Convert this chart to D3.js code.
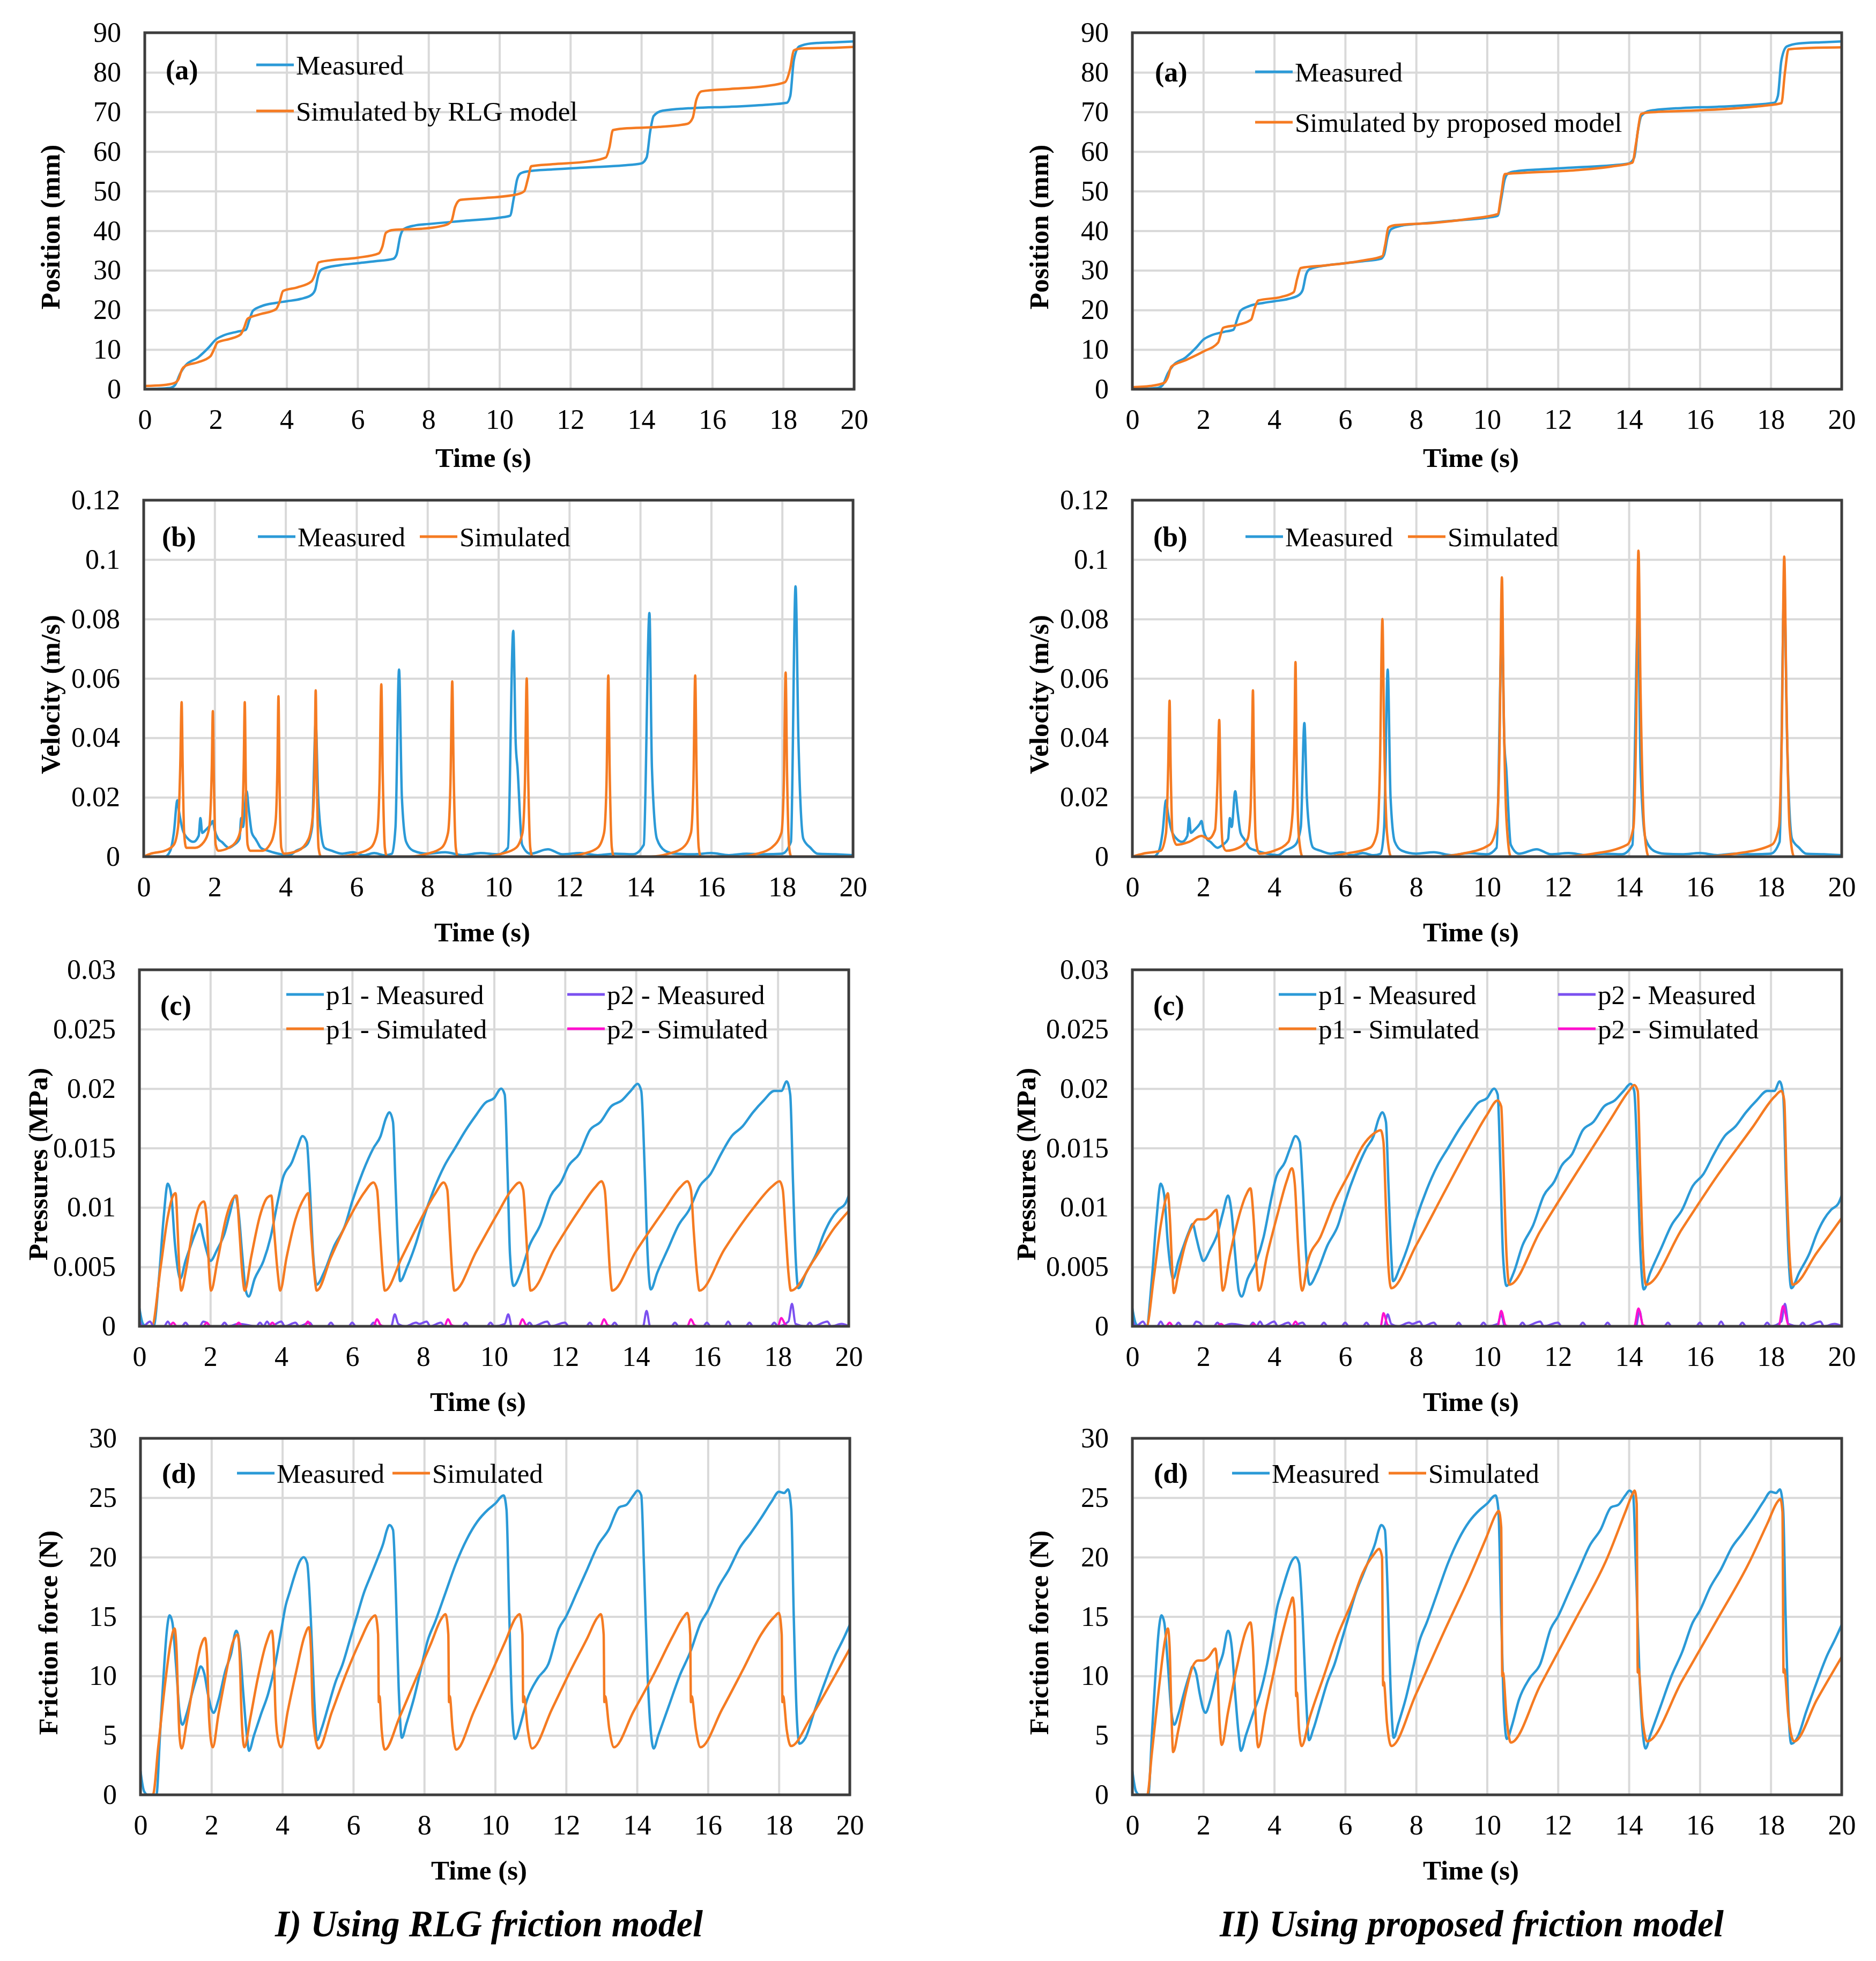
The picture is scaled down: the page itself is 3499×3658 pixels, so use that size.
<!DOCTYPE html>
<html lang="en">
<head>
<meta charset="utf-8">
<title>Measured vs simulated: RLG and proposed friction models</title>
<script src="https://cdn.jsdelivr.net/npm/d3@7"></script>
<style>
  body { margin: 0; background: #fff; }
  text { font-family: "Liberation Serif", "Times New Roman", serif; fill: #000; }
  .grid line { stroke: #d9d9d9; stroke-width: 4; }
  .grid path { display: none; }
  .axis path { display: none; }
  .axis text { font-size: 52px; }
</style>
</head>
<body>
<script>

// ---- tick values ----
var timeTicks = [0, 2, 4, 6, 8, 10, 12, 14, 16, 18, 20];
var posTicks = [0, 10, 20, 30, 40, 50, 60, 70, 80, 90];
var velTicks = [0, 0.02, 0.04, 0.06, 0.08, 0.1, 0.12];
var presTicks = [0, 0.005, 0.01, 0.015, 0.02, 0.025, 0.03];
var forceTicks = [0, 5, 10, 15, 20, 25, 30];

// ---- (a) position, mm  [time s, value] ----
var measPos = [[0,0],[0.3,0.1],[0.7,0.3],[0.85,1],[1.0,4],[1.15,6],[1.5,8],[1.8,10.5],[2.0,12.5],[2.2,13.5],[2.6,14.5],[2.85,15],[2.95,17.5],[3.05,19.8],[3.3,21],[3.7,21.8],[4.0,22.2],[4.4,22.8],[4.7,23.8],[4.8,25],[4.9,29],[5.0,30.3],[5.5,31.3],[6.0,31.8],[6.5,32.3],[7.0,32.9],[7.1,34],[7.2,38.5],[7.3,40.4],[7.6,41.3],[8,41.7],[9,42.5],[10,43.3],[10.3,43.8],[10.4,48],[10.5,53],[10.6,54.5],[10.8,55],[11.5,55.5],[12.5,56],[13.5,56.5],[14.0,57],[14.15,58.5],[14.25,65],[14.35,69],[14.6,70.3],[15.5,71],[16.5,71.3],[17.5,71.8],[18.1,72.3],[18.2,74],[18.3,83],[18.45,86.5],[18.8,87.3],[19.5,87.6],[20,87.8]];
var simPosRLG = [[0,0.8],[0.5,1.0],[0.85,1.6],[0.95,2.5],[1.05,5],[1.15,5.9],[1.5,6.8],[1.85,8.3],[1.95,10],[2.05,11.8],[2.4,12.7],[2.7,13.8],[2.8,15.5],[2.9,17.8],[3.2,18.8],[3.7,20.2],[3.8,22],[3.9,24.8],[4.3,25.7],[4.7,27.2],[4.8,29],[4.9,32],[5.2,32.5],[6.0,33.2],[6.6,34.3],[6.7,36],[6.8,39.5],[7.0,40.2],[7.8,40.5],[8.5,41.5],[8.65,42.5],[8.75,46],[8.9,47.8],[9.5,48.2],[10.5,49.2],[10.7,50],[10.8,53],[10.9,56.3],[11.5,56.8],[12.5,57.5],[13.0,58.5],[13.1,61],[13.2,65.4],[13.5,65.8],[14.5,66.2],[15.3,67],[15.45,68.5],[15.55,73],[15.7,75.2],[16.5,75.8],[17.5,76.5],[18.05,77.5],[18.2,81],[18.3,85.5],[18.5,86],[19.5,86.2],[20,86.4]];
var simPosProp = [[0,0.5],[0.5,0.8],[0.9,1.6],[1.0,3],[1.1,5.7],[1.5,7.3],[2.0,9.5],[2.42,11.8],[2.48,13.5],[2.56,15.5],[3.0,16.3],[3.35,17.6],[3.45,20.5],[3.55,22.4],[4.2,23.3],[4.55,24.5],[4.65,28],[4.75,30.6],[5.5,31.3],[6.5,32.5],[7.05,33.6],[7.13,36.5],[7.22,40.8],[7.4,41.4],[8.5,42],[9.5,43],[10.3,44.2],[10.4,49],[10.5,54.3],[11,54.6],[12.5,55.3],[13.5,56.2],[14.1,57.2],[14.2,62],[14.35,69.5],[14.6,69.9],[16,70.4],[17.5,71.3],[18.3,72.2],[18.4,80],[18.5,85.8],[19,86.1],[20,86.3]];

// ---- (b) velocity, m/s ----
var measVel = [[0,0],[0.6,0],[0.75,0.002],[0.85,0.008],[0.95,0.019],[1.0,0.015],[1.1,0.009],[1.25,0.006],[1.4,0.005],[1.55,0.007],[1.6,0.013],[1.65,0.008],[1.75,0.009],[1.9,0.011],[1.95,0.012],[2.0,0.009],[2.1,0.006],[2.2,0.005],[2.4,0.003],[2.55,0.004],[2.7,0.006],[2.75,0.013],[2.8,0.01],[2.9,0.022],[2.97,0.015],[3.05,0.008],[3.15,0.006],[3.2,0.005],[3.3,0.003],[3.5,0.002],[3.8,0.001],[4.1,0.0005],[4.3,0.002],[4.6,0.004],[4.75,0.01],[4.85,0.045],[4.92,0.02],[5.0,0.008],[5.1,0.003],[5.3,0.002],[5.6,0.001],[5.9,0.0015],[6.2,0.0005],[6.5,0.0012],[6.8,0.0005],[7.0,0.001],[7.1,0.01],[7.2,0.063],[7.28,0.02],[7.4,0.005],[7.6,0.002],[8.0,0.001],[8.5,0.0015],[9.0,0.0005],[9.5,0.0012],[10.0,0.0008],[10.27,0.003],[10.42,0.076],[10.49,0.038],[10.54,0.03],[10.67,0.004],[10.9,0.001],[11.4,0.0025],[11.8,0.0008],[12.3,0.0012],[12.8,0.0005],[13.3,0.001],[13.8,0.0008],[14.1,0.004],[14.26,0.082],[14.33,0.03],[14.47,0.006],[14.7,0.002],[15,0.001],[15.5,0.0008],[16,0.0012],[16.5,0.0005],[17,0.001],[17.5,0.0008],[18.0,0.001],[18.25,0.005],[18.38,0.091],[18.46,0.04],[18.6,0.006],[18.8,0.003],[19.0,0.001],[19.5,0.0008],[20,0.0005]];
var simVelRLG = [[0,0],[0.2,0.001],[0.6,0.002],[0.85,0.004],[0.97,0.01],[1.03,0.03],[1.07,0.052],[1.1,0.03],[1.14,0.008],[1.2,0.003],[1.45,0.003],[1.7,0.005],[1.85,0.01],[1.92,0.03],[1.95,0.049],[1.98,0.025],[2.03,0.004],[2.1,0.002],[2.4,0.003],[2.65,0.006],[2.77,0.012],[2.82,0.03],[2.85,0.052],[2.88,0.025],[2.93,0.004],[3.0,0.002],[3.35,0.002],[3.6,0.005],[3.72,0.012],[3.77,0.03],[3.8,0.054],[3.83,0.025],[3.88,0.003],[3.95,0.001],[4.35,0.002],[4.65,0.006],[4.77,0.014],[4.82,0.03],[4.85,0.056],[4.88,0.028],[4.93,0.003],[5.0,0],[5.5,0],[6.0,0.001],[6.4,0.003],[6.58,0.008],[6.65,0.025],[6.7,0.058],[6.74,0.028],[6.8,0.003],[6.86,0],[7.5,0],[8.0,0.001],[8.4,0.003],[8.58,0.008],[8.65,0.025],[8.7,0.059],[8.74,0.028],[8.8,0.003],[8.86,0],[9.6,0],[10.1,0.001],[10.5,0.003],[10.68,0.008],[10.75,0.025],[10.8,0.06],[10.84,0.028],[10.9,0.003],[10.96,0],[11.9,0],[12.4,0.001],[12.8,0.003],[12.98,0.008],[13.05,0.025],[13.1,0.061],[13.14,0.028],[13.2,0.003],[13.26,0],[14.3,0],[14.8,0.001],[15.2,0.003],[15.43,0.008],[15.5,0.025],[15.55,0.061],[15.59,0.028],[15.65,0.003],[15.71,0],[16.8,0],[17.3,0.001],[17.7,0.003],[17.98,0.008],[18.05,0.025],[18.1,0.062],[18.14,0.028],[18.2,0.003],[18.26,0],[20,0]];
var simVelProp = [[0,0],[0.3,0.001],[0.8,0.002],[0.95,0.008],[1.01,0.03],[1.05,0.0525],[1.08,0.03],[1.13,0.008],[1.25,0.004],[1.6,0.005],[1.95,0.007],[2.15,0.006],[2.33,0.009],[2.4,0.025],[2.45,0.046],[2.49,0.02],[2.55,0.004],[2.65,0.002],[3.0,0.003],[3.25,0.006],[3.33,0.015],[3.37,0.035],[3.4,0.056],[3.43,0.03],[3.48,0.006],[3.58,0.001],[4.0,0.002],[4.4,0.005],[4.52,0.015],[4.57,0.04],[4.6,0.0655],[4.63,0.035],[4.7,0.006],[4.8,0],[5.5,0],[6.0,0.001],[6.7,0.003],[6.9,0.008],[6.98,0.03],[7.05,0.08],[7.1,0.04],[7.18,0.008],[7.3,0],[8.5,0],[9.3,0.001],[10.07,0.004],[10.27,0.01],[10.35,0.035],[10.42,0.094],[10.47,0.05],[10.55,0.012],[10.67,0],[12,0],[13.0,0.001],[13.95,0.004],[14.13,0.01],[14.2,0.04],[14.27,0.103],[14.33,0.055],[14.43,0.01],[14.56,0],[16,0],[17.0,0.001],[18.03,0.004],[18.23,0.01],[18.31,0.04],[18.38,0.101],[18.44,0.055],[18.53,0.01],[18.66,0],[20,0]];

// ---- (c) pressures, MPa ----
var measP1 = [[0,0.0015],[0.1,0.0002],[0.2,0],[0.4,0],[0.55,0.004],[0.68,0.009],[0.8,0.012],[0.9,0.011],[1.0,0.007],[1.1,0.0045],[1.15,0.004],[1.3,0.0055],[1.45,0.0068],[1.6,0.008],[1.7,0.0086],[1.8,0.0075],[1.9,0.0063],[2.0,0.0055],[2.2,0.0065],[2.4,0.0078],[2.55,0.0095],[2.7,0.011],[2.8,0.0095],[2.9,0.006],[3.0,0.003],[3.08,0.0025],[3.25,0.004],[3.5,0.0055],[3.7,0.0075],[3.9,0.0105],[4.05,0.0125],[4.3,0.0138],[4.45,0.015],[4.6,0.016],[4.72,0.0155],[4.8,0.012],[4.9,0.006],[5.0,0.0035],[5.2,0.0045],[5.5,0.0068],[5.8,0.0085],[6.0,0.0105],[6.3,0.013],[6.6,0.015],[6.8,0.016],[6.95,0.0175],[7.05,0.018],[7.15,0.0172],[7.22,0.012],[7.3,0.006],[7.35,0.0038],[7.55,0.005],[7.8,0.007],[8.0,0.009],[8.3,0.0115],[8.6,0.0135],[8.9,0.015],[9.2,0.0165],[9.5,0.0178],[9.75,0.0188],[10.0,0.0192],[10.2,0.02],[10.3,0.0195],[10.38,0.013],[10.45,0.006],[10.55,0.0034],[10.75,0.0045],[11.0,0.0068],[11.3,0.0085],[11.6,0.011],[11.9,0.0122],[12.1,0.0135],[12.4,0.0145],[12.7,0.0165],[13.0,0.0172],[13.3,0.0185],[13.6,0.019],[13.85,0.0198],[14.05,0.0204],[14.15,0.0198],[14.25,0.013],[14.33,0.006],[14.42,0.0031],[14.6,0.0045],[14.9,0.0065],[15.2,0.0085],[15.5,0.0098],[15.8,0.0118],[16.1,0.0128],[16.4,0.0145],[16.7,0.016],[17.0,0.0168],[17.3,0.018],[17.6,0.019],[17.9,0.0198],[18.1,0.0198],[18.25,0.0206],[18.35,0.0195],[18.43,0.012],[18.5,0.006],[18.58,0.0032],[18.8,0.0045],[19.1,0.0062],[19.3,0.0078],[19.5,0.009],[19.7,0.0098],[19.9,0.0103],[20,0.011]];
var simP1RLG = [[0,0],[0.35,0],[0.6,0.005],[0.8,0.0092],[0.95,0.011],[1.02,0.0112],[1.08,0.008],[1.13,0.0045],[1.18,0.003],[1.3,0.0045],[1.5,0.008],[1.7,0.0102],[1.82,0.0105],[1.9,0.009],[1.96,0.005],[2.02,0.003],[2.2,0.0055],[2.45,0.0092],[2.65,0.0108],[2.74,0.011],[2.82,0.008],[2.9,0.0045],[2.97,0.003],[3.15,0.0058],[3.4,0.0093],[3.6,0.0108],[3.72,0.011],[3.8,0.008],[3.9,0.0045],[3.97,0.003],[4.15,0.0058],[4.4,0.009],[4.65,0.0108],[4.76,0.0112],[4.84,0.008],[4.93,0.0045],[5.0,0.003],[5.4,0.0058],[5.9,0.009],[6.35,0.0113],[6.6,0.0121],[6.7,0.0115],[6.78,0.008],[6.86,0.0045],[6.92,0.003],[7.4,0.0058],[7.9,0.0088],[8.35,0.0112],[8.58,0.0121],[8.68,0.0115],[8.75,0.008],[8.82,0.0045],[8.88,0.003],[9.5,0.0063],[10.1,0.0095],[10.5,0.0115],[10.72,0.0121],[10.82,0.0115],[10.9,0.008],[10.97,0.0045],[11.03,0.003],[11.7,0.0065],[12.4,0.0098],[12.85,0.0117],[13.03,0.0122],[13.12,0.0115],[13.2,0.008],[13.27,0.0045],[13.33,0.003],[14.0,0.0063],[14.8,0.0098],[15.25,0.0117],[15.45,0.0122],[15.55,0.0115],[15.63,0.008],[15.72,0.0045],[15.79,0.003],[16.5,0.0065],[17.3,0.0099],[17.85,0.0118],[18.05,0.0122],[18.14,0.0115],[18.22,0.008],[18.3,0.0045],[18.37,0.003],[19.0,0.0055],[19.6,0.0083],[20,0.0097]];
var simP1Prop = [[0,0],[0.4,0],[0.6,0.004],[0.8,0.0085],[0.95,0.0108],[1.0,0.0112],[1.06,0.009],[1.12,0.005],[1.17,0.0028],[1.3,0.0045],[1.5,0.007],[1.7,0.0085],[1.85,0.009],[2.05,0.009],[2.2,0.0093],[2.37,0.0098],[2.43,0.008],[2.5,0.0045],[2.55,0.003],[2.75,0.006],[3.0,0.0092],[3.2,0.011],[3.33,0.0116],[3.42,0.009],[3.5,0.005],[3.57,0.003],[3.8,0.006],[4.1,0.0095],[4.35,0.0122],[4.5,0.0133],[4.58,0.012],[4.67,0.007],[4.75,0.0035],[4.79,0.003],[4.95,0.0055],[5.3,0.0075],[5.7,0.0105],[6.1,0.0128],[6.5,0.0152],[6.8,0.0162],[7.0,0.0165],[7.08,0.0155],[7.15,0.01],[7.22,0.005],[7.3,0.0032],[8.0,0.0068],[8.8,0.0113],[9.5,0.0152],[10.0,0.0178],[10.3,0.019],[10.4,0.0185],[10.47,0.013],[10.55,0.006],[10.63,0.0035],[11.5,0.008],[12.5,0.0128],[13.5,0.0175],[14.0,0.0198],[14.15,0.0203],[14.25,0.0198],[14.32,0.013],[14.4,0.006],[14.48,0.0035],[15.5,0.0082],[16.5,0.0127],[17.5,0.0168],[18.1,0.0193],[18.3,0.0198],[18.38,0.019],[18.45,0.012],[18.53,0.006],[18.62,0.0035],[19.3,0.0062],[20,0.0091]];
var measP2 = [[0,0.0005],[0.1,0],[0.3,0.0004],[0.4,0],[0.7,0],[0.8,0.0004],[0.9,0],[1.2,0],[1.3,0.0003],[1.4,0],[1.7,0],[1.8,0.0004],[1.9,0.0003],[2.0,0],[2.3,0],[2.4,0.0003],[2.5,0],[2.8,0.0002],[3.3,0],[3.4,0.0003],[3.5,0],[3.6,0.0004],[3.7,0],[4.0,0.0004],[4.1,0],[4.4,0.0003],[4.5,0],[4.8,0.0003],[4.9,0],[5.3,0],[5.4,0.0003],[5.5,0],[5.9,0],[6.0,0.0003],[6.1,0],[6.5,0],[6.6,0.0003],[6.7,0],[7.1,0],[7.2,0.001],[7.3,0.0002],[7.5,0],[7.8,0.0003],[7.9,0.0002],[8.1,0.0004],[8.2,0],[8.5,0.0003],[8.6,0],[9.1,0],[9.2,0.0003],[9.3,0],[9.8,0],[9.9,0.0003],[10.0,0],[10.3,0.0002],[10.4,0.001],[10.5,0],[10.9,0],[11.0,0.0003],[11.1,0],[11.5,0.0004],[11.6,0],[12.0,0.0003],[12.1,0],[12.6,0],[12.7,0.0003],[12.8,0],[13.3,0],[13.4,0.0003],[13.5,0],[14.2,0],[14.3,0.0013],[14.4,0],[15.0,0],[15.1,0.0003],[15.2,0],[15.9,0],[16.0,0.0003],[16.1,0],[16.5,0],[16.6,0.0004],[16.7,0],[17.1,0],[17.2,0.0003],[17.3,0],[17.8,0],[17.9,0.0003],[18.0,0],[18.3,0.0004],[18.4,0.0019],[18.5,0.0002],[18.8,0],[18.9,0.0003],[19.0,0],[19.4,0.0004],[19.5,0],[19.8,0.0002],[20,0]];
var simP2RLG = [[0,0],[0.85,0],[0.95,0.0003],[1.05,0],[1.8,0],[1.9,0.0003],[2.0,0],[2.7,0],[2.8,0.0003],[2.9,0],[3.65,0],[3.75,0.0003],[3.85,0],[4.65,0],[4.75,0.0004],[4.85,0],[6.6,0],[6.7,0.0006],[6.8,0.0001],[6.9,0],[8.6,0],[8.7,0.0006],[8.8,0.0001],[8.9,0],[10.7,0],[10.8,0.0006],[10.9,0.0001],[11.0,0],[13.0,0],[13.1,0.0006],[13.2,0.0001],[13.3,0],[15.45,0],[15.55,0.0006],[15.65,0.0001],[15.75,0],[18.0,0],[18.1,0.0007],[18.2,0.0002],[18.3,0],[20,0]];
var simP2Prop = [[0,0],[0.95,0],[1.05,0.0003],[1.15,0],[2.4,0],[2.5,0.0002],[2.6,0],[3.35,0],[3.42,0.0002],[3.5,0],[4.5,0],[4.6,0.0004],[4.7,0],[7.0,0],[7.08,0.0011],[7.2,0.0001],[7.3,0],[10.3,0],[10.4,0.0013],[10.52,0.0001],[10.6,0],[14.15,0],[14.27,0.0015],[14.4,0.0001],[14.5,0],[18.22,0],[18.35,0.0017],[18.5,0.0001],[18.6,0],[20,0]];

// ---- (d) friction force, N ----
var measF = [[0,2],[0.1,0.3],[0.2,0],[0.45,0],[0.55,5],[0.65,10],[0.75,14],[0.82,15.1],[0.9,14.5],[1.0,11],[1.1,7],[1.18,5.9],[1.3,6.8],[1.45,8.5],[1.6,10],[1.7,10.8],[1.8,10.2],[1.9,8.5],[2.0,7.2],[2.06,6.9],[2.2,8],[2.4,10.5],[2.55,11.8],[2.7,13.8],[2.8,12.5],[2.9,8.5],[3.0,5],[3.06,3.7],[3.2,5],[3.4,6.8],[3.6,8.5],[3.8,11],[3.95,13.5],[4.1,16],[4.2,17],[4.35,18.5],[4.5,19.7],[4.6,20],[4.7,19.5],[4.8,15],[4.9,8],[4.98,4.6],[5.1,5.5],[5.3,7.5],[5.5,9.5],[5.7,11],[5.9,13],[6.1,15],[6.3,17],[6.5,18.5],[6.7,20],[6.85,21.2],[6.95,22.3],[7.02,22.7],[7.12,22.3],[7.2,17],[7.28,9],[7.37,4.8],[7.5,6],[7.7,8],[7.9,10.5],[8.1,13],[8.3,14.5],[8.6,17],[8.9,19.5],[9.2,21.5],[9.5,23],[9.8,24],[10.0,24.5],[10.24,25.2],[10.32,24],[10.4,15],[10.48,7],[10.56,4.7],[10.7,5.8],[10.9,8],[11.2,9.8],[11.5,11],[11.8,14],[12.0,15],[12.3,17],[12.6,19],[12.9,21],[13.2,22.3],[13.5,24.2],[13.7,24.4],[13.9,25.2],[14.02,25.6],[14.12,25.2],[14.2,19],[14.3,10],[14.4,5],[14.47,3.9],[14.6,5],[14.9,7.5],[15.2,10],[15.5,12],[15.8,14.5],[16.0,15.5],[16.3,17.5],[16.6,19],[16.9,20.8],[17.2,22],[17.5,23.3],[17.8,24.7],[18.0,25.5],[18.15,25.4],[18.26,25.7],[18.35,24],[18.42,15],[18.5,7],[18.58,4.3],[18.75,4.8],[19.0,7],[19.3,9.5],[19.6,11.8],[19.8,13],[20,14.3]];
var simFRLG = [[0,0],[0.35,0],[0.5,4],[0.7,9.5],[0.85,12.8],[0.96,14],[1.02,12],[1.06,8],[1.1,5],[1.16,3.9],[1.3,6],[1.5,9.5],[1.7,12.5],[1.82,13.2],[1.88,11.5],[1.92,7.5],[1.97,5],[2.04,4],[2.2,6.8],[2.4,10],[2.6,12.8],[2.74,13.5],[2.8,11.5],[2.84,7.5],[2.88,5],[2.93,4],[3.1,6.5],[3.3,9.7],[3.55,12.8],[3.7,13.8],[3.76,12],[3.8,7.5],[3.86,5],[3.96,4],[4.15,7],[4.4,10.5],[4.62,13.3],[4.75,14.1],[4.81,12],[4.85,7.5],[4.92,5],[5.02,3.9],[5.4,7],[5.8,10.2],[6.2,13],[6.5,14.8],[6.62,15.1],[6.7,13.5],[6.72,7.8],[6.74,8.3],[6.8,5.5],[6.89,3.8],[7.3,6.5],[7.8,10],[8.2,12.8],[8.48,14.8],[8.6,15.2],[8.68,13.5],[8.7,7.8],[8.72,8.3],[8.8,5.5],[8.9,3.8],[9.4,7],[9.9,10.3],[10.3,13],[10.58,14.9],[10.69,15.2],[10.77,13.5],[10.79,7.8],[10.81,8.3],[10.92,5.5],[11.04,3.9],[11.6,7.2],[12.1,10.3],[12.6,13.2],[12.88,14.9],[12.98,15.2],[13.06,13.5],[13.08,7.8],[13.1,8.3],[13.22,5.5],[13.35,4],[13.9,7],[14.5,10.3],[15.0,13.3],[15.32,15],[15.42,15.3],[15.5,13.5],[15.52,7.8],[15.54,8.3],[15.66,5.5],[15.79,4],[16.4,7.2],[17.0,10.6],[17.5,13.5],[17.88,15],[18.0,15.3],[18.08,13.5],[18.1,7.8],[18.12,8.3],[18.22,5.5],[18.34,4.1],[18.9,6.5],[19.5,9.6],[20,12.3]];
var simFProp = [[0,0],[0.42,0],[0.55,3.5],[0.75,9],[0.92,13],[1.0,14],[1.05,12.5],[1.1,7],[1.15,3.6],[1.3,5.5],[1.5,8.5],[1.7,10.8],[1.85,11.3],[2.0,11.3],[2.15,11.6],[2.34,12.3],[2.4,10.5],[2.46,6],[2.52,4.2],[2.7,7],[2.95,10.8],[3.2,13.8],[3.33,14.5],[3.4,12.5],[3.47,7],[3.55,4],[3.75,7],[4.0,10.5],[4.25,13.8],[4.45,16],[4.52,16.6],[4.58,15],[4.62,8.3],[4.64,8.6],[4.7,5.5],[4.77,4.1],[5.0,6.5],[5.4,10],[5.8,13.5],[6.2,16.3],[6.5,18.7],[6.8,20.2],[6.96,20.7],[7.04,20],[7.07,9.2],[7.09,9.5],[7.18,6],[7.3,4.1],[8.0,8.5],[8.8,13.8],[9.5,18.3],[10.0,21.8],[10.25,23.6],[10.33,23.9],[10.4,22.5],[10.43,10],[10.45,10.3],[10.55,6.5],[10.67,4.4],[11.5,9.2],[12.5,14.8],[13.4,20],[13.9,23.8],[14.1,25.3],[14.16,25.6],[14.22,24.5],[14.25,10.3],[14.27,10.6],[14.38,6.5],[14.51,4.5],[15.5,9.6],[16.5,14.8],[17.4,19.6],[17.9,22.8],[18.2,24.7],[18.27,24.9],[18.33,23.8],[18.36,10.3],[18.38,10.6],[18.5,6.5],[18.66,4.5],[19.3,8],[20,11.6]];

// ---- layout ----
var W = 3499, H = 3658;
var plotW = 1323, plotH = 665;

var cMeas = "#2b9ad7", cSim = "#f57b22", cP2m = "#7b50f0", cP2s = "#ff10cf";

var svg = d3.select("body").append("svg")
  .attr("width", W).attr("height", H)
  .style("background", "#fff");

var panelId = 0;

function drawPanel(p) {
  panelId++;
  var g = svg.append("g").attr("transform", "translate(" + p.x + "," + p.y + ")");

  var x = d3.scaleLinear().domain([0, 20]).range([0, plotW]);
  var y = d3.scaleLinear().domain([0, p.ticks[p.ticks.length - 1]]).range([plotH, 0]);

  // gridlines
  g.append("g").attr("class", "grid")
    .call(d3.axisBottom(x).tickValues(timeTicks).tickSize(plotH).tickFormat(""));
  g.append("g").attr("class", "grid")
    .call(d3.axisLeft(y).tickValues(p.ticks).tickSize(-plotW).tickFormat(""));

  // clip so lines stay inside the plot
  svg.append("clipPath").attr("id", "clip" + panelId)
    .append("rect").attr("x", 0).attr("y", -4).attr("width", plotW).attr("height", plotH + 4);

  var line = d3.line()
    .x(function(d) { return x(d[0]); })
    .y(function(d) { return y(d[1]); })
    .curve(d3.curveMonotoneX);

  var lines = g.append("g").attr("clip-path", "url(#clip" + panelId + ")");
  p.series.forEach(function(s) {
    lines.append("path")
      .datum(s.data)
      .attr("d", line)
      .attr("fill", "none")
      .attr("stroke", s.color)
      .attr("stroke-width", s.width || 4.5)
      .attr("stroke-linejoin", "round");
  });

  // frame
  g.append("rect")
    .attr("width", plotW).attr("height", plotH)
    .attr("fill", "none").attr("stroke", "#3d3d3d").attr("stroke-width", 5);

  // axes labels
  g.append("g").attr("class", "axis")
    .attr("transform", "translate(0," + plotH + ")")
    .call(d3.axisBottom(x).tickValues(timeTicks).tickSize(0).tickPadding(37).tickFormat(d3.format("d")));
  g.append("g").attr("class", "axis")
    .call(d3.axisLeft(y).tickValues(p.ticks).tickSize(0).tickPadding(44).tickFormat(d3.format("~g")));
  g.selectAll(".axis text").attr("font-family", "Liberation Serif");

  // axis titles
  g.append("text")
    .attr("x", plotW / 2 - 30).attr("y", plotH + p.xTitleDy)
    .attr("text-anchor", "middle")
    .attr("font-size", 51).attr("font-weight", "bold")
    .text("Time (s)");
  g.append("text")
    .attr("transform", "translate(" + (p.yTitleX - p.x) + "," + (plotH / 2 + 30) + ") rotate(-90)")
    .attr("text-anchor", "middle").attr("dy", "0.35em")
    .attr("font-size", 51).attr("font-weight", "bold")
    .text(p.yTitle);

  // panel tag
  g.append("text")
    .attr("x", p.tag[1]).attr("y", p.tag[2]).attr("dy", "0.35em")
    .attr("font-size", 52).attr("font-weight", "bold")
    .text(p.tag[0]);

  // legend
  p.legend.forEach(function(l) {
    g.append("line")
      .attr("x1", l.x).attr("x2", l.x + 70)
      .attr("y1", l.y).attr("y2", l.y)
      .attr("stroke", l.color).attr("stroke-width", 5);
    g.append("text")
      .attr("x", l.x + 74).attr("y", l.y).attr("dy", "0.35em")
      .attr("font-size", 51)
      .text(l.text);
  });
}

var panels = [
  // column I, RLG model
  { x: 270, y: 61, ticks: posTicks, yTitle: "Position (mm)", yTitleX: 93, xTitleDy: 145,
    tag: ["(a)", 39, 69],
    series: [{ data: measPos, color: cMeas }, { data: simPosRLG, color: cSim }],
    legend: [{ text: "Measured", color: cMeas, x: 208, y: 60 },
             { text: "Simulated by RLG model", color: cSim, x: 208, y: 146 }] },
  { x: 268, y: 933, ticks: velTicks, yTitle: "Velocity (m/s)", yTitleX: 93, xTitleDy: 158,
    tag: ["(b)", 34, 68],
    series: [{ data: measVel, color: cMeas }, { data: simVelRLG, color: cSim }],
    legend: [{ text: "Measured", color: cMeas, x: 213, y: 68 },
             { text: "Simulated", color: cSim, x: 515, y: 68 }] },
  { x: 260, y: 1809, ticks: presTicks, yTitle: "Pressures (MPa)", yTitleX: 70, xTitleDy: 158,
    tag: ["(c)", 39, 66],
    series: [{ data: measP1, color: cMeas }, { data: simP1RLG, color: cSim },
             { data: measP2, color: cP2m, width: 4 }, { data: simP2RLG, color: cP2s, width: 4 }],
    legend: [{ text: "p1 - Measured", color: cMeas, x: 274, y: 46 },
             { text: "p2 - Measured", color: cP2m, x: 798, y: 46 },
             { text: "p1 - Simulated", color: cSim, x: 274, y: 110 },
             { text: "p2 - Simulated", color: cP2s, x: 798, y: 110 }] },
  { x: 262, y: 2683, ticks: forceTicks, yTitle: "Friction force (N)", yTitleX: 89, xTitleDy: 158,
    tag: ["(d)", 40, 65],
    series: [{ data: measF, color: cMeas }, { data: simFRLG, color: cSim }],
    legend: [{ text: "Measured", color: cMeas, x: 180, y: 65 },
             { text: "Simulated", color: cSim, x: 470, y: 65 }] },

  // column II, proposed model
  { x: 2112, y: 61, ticks: posTicks, yTitle: "Position (mm)", yTitleX: 1937, xTitleDy: 145,
    tag: ["(a)", 42, 73],
    series: [{ data: measPos, color: cMeas }, { data: simPosProp, color: cSim }],
    legend: [{ text: "Measured", color: cMeas, x: 229, y: 73 },
             { text: "Simulated by proposed model", color: cSim, x: 229, y: 167 }] },
  { x: 2112, y: 933, ticks: velTicks, yTitle: "Velocity (m/s)", yTitleX: 1937, xTitleDy: 158,
    tag: ["(b)", 39, 68],
    series: [{ data: measVel, color: cMeas }, { data: simVelProp, color: cSim }],
    legend: [{ text: "Measured", color: cMeas, x: 211, y: 68 },
             { text: "Simulated", color: cSim, x: 514, y: 68 }] },
  { x: 2112, y: 1809, ticks: presTicks, yTitle: "Pressures (MPa)", yTitleX: 1913, xTitleDy: 158,
    tag: ["(c)", 39, 66],
    series: [{ data: measP1, color: cMeas }, { data: simP1Prop, color: cSim },
             { data: measP2, color: cP2m, width: 4 }, { data: simP2Prop, color: cP2s, width: 4 }],
    legend: [{ text: "p1 - Measured", color: cMeas, x: 273, y: 46 },
             { text: "p2 - Measured", color: cP2m, x: 794, y: 46 },
             { text: "p1 - Simulated", color: cSim, x: 273, y: 110 },
             { text: "p2 - Simulated", color: cP2s, x: 794, y: 110 }] },
  { x: 2112, y: 2683, ticks: forceTicks, yTitle: "Friction force (N)", yTitleX: 1937, xTitleDy: 158,
    tag: ["(d)", 40, 65],
    series: [{ data: measF, color: cMeas }, { data: simFProp, color: cSim }],
    legend: [{ text: "Measured", color: cMeas, x: 186, y: 65 },
             { text: "Simulated", color: cSim, x: 478, y: 65 }] }
];

panels.forEach(drawPanel);

// column captions
svg.append("text")
  .attr("x", 912).attr("y", 3612).attr("text-anchor", "middle")
  .attr("font-size", 70).attr("font-weight", "bold").attr("font-style", "italic")
  .attr("textLength", 798).attr("lengthAdjust", "spacingAndGlyphs")
  .text("I) Using RLG friction model");
svg.append("text")
  .attr("x", 2745).attr("y", 3612).attr("text-anchor", "middle")
  .attr("font-size", 70).attr("font-weight", "bold").attr("font-style", "italic")
  .attr("textLength", 940).attr("lengthAdjust", "spacingAndGlyphs")
  .text("II) Using proposed friction model");

</script>
</body>
</html>
